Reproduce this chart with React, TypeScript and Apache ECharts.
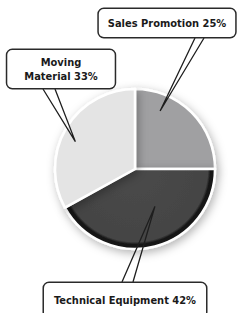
import React, { useEffect, useRef } from 'react';
import * as echarts from 'echarts';

const categories = ['Sales Promotion', 'Technical Equipment', 'Moving\nMaterial'];
const shares = [25, 42, 33];

const PIE_CENTER = [135, 169];
const PIE_RADIUS = 80;
const sliceColors = [
  '#a0a0a2',
  {
    type: 'radial', x: PIE_CENTER[0], y: PIE_CENTER[1], r: PIE_RADIUS + 1, global: true, globalCoord: true,
    colorStops: [
      { offset: 0, color: '#4a4a4a' },
      { offset: 0.9, color: '#444444' },
      { offset: 0.93, color: '#181818' },
      { offset: 1, color: '#141414' },
    ],
  },
  '#e4e4e4',
];
// label box centres, paddings, and the pointer geometry (attachment offsets on the box, tip position inside the slice)
const labelCenters = [[167, 23], [125, 300], [61, 69]];
const labelPadding = [[7, 9, 7, 9], [10, 10, 10, 10], [5, 17, 5, 17]];
const pointerAttach = [
  { side: 'bottom', dx: [28, 37] },
  { side: 'top', dx: [-3, 8] },
  { side: 'bottom', dx: [-18, -6] },
];
const pointerTip = [
  { angleFrac: 0.26, radiusFrac: 0.79 },
  { angleFrac: 0.41, radiusFrac: 0.53 },
  { angleFrac: 0.45, radiusFrac: 0.82 },
];
const FONT = "'DejaVu Sans Condensed', 'Liberation Sans Narrow', sans-serif";

export default function App() {
  const ref = useRef<HTMLDivElement>(null);
  useEffect(() => {
    if (!ref.current) return;
    const chart = echarts.init(ref.current, undefined, { renderer: 'svg' });
    const total = shares.reduce((a, b) => a + b, 0);
    const starts: number[] = [];
    let acc = 0;
    shares.forEach((v) => { starts.push(acc); acc += v; });

    const tipOf = (i: number) => {
      const ang = ((starts[i] + shares[i] * pointerTip[i].angleFrac) / total) * Math.PI * 2;
      const r = PIE_RADIUS * pointerTip[i].radiusFrac;
      return [PIE_CENTER[0] + r * Math.sin(ang), PIE_CENTER[1] - r * Math.cos(ang)];
    };

    chart.setOption({
      animation: false,
      backgroundColor: '#ffffff',
      series: [
        {
          type: 'pie',
          center: PIE_CENTER,
          radius: PIE_RADIUS,
          startAngle: 90,
          clockwise: true,
          silent: true,
          z: 2,
          label: { show: false },
          labelLine: { show: false },
          itemStyle: {
            borderColor: '#ffffff',
            borderWidth: 2.5,
            shadowBlur: 10,
            shadowColor: 'rgba(0,0,0,0.3)',
            shadowOffsetX: 2,
            shadowOffsetY: 3,
          },
          data: categories.map((name, i) => ({
            name,
            value: shares[i],
            itemStyle: { color: sliceColors[i] as any },
          })),
        },
        {
          type: 'pie',
          center: PIE_CENTER,
          radius: 40,
          startAngle: 90,
          clockwise: true,
          silent: true,
          z: 5,
          avoidLabelOverlap: false,
          itemStyle: { color: 'rgba(0,0,0,0)', borderWidth: 0 },
          label: {
            show: true,
            position: 'outside',
            formatter: (p: any) => `${p.name} ${p.value}%`,
            fontFamily: FONT,
            fontWeight: 'bold',
            fontSize: 11,
            lineHeight: 14,
            color: '#1a1a1a',
            align: 'center',
            backgroundColor: '#ffffff',
            borderColor: '#2a2a2a',
            borderWidth: 1.5,
            borderRadius: 5,
          },
          labelLine: {
            show: true,
            length: 0,
            length2: 0,
            smooth: false,
            lineStyle: { color: '#1e1e1e', width: 1.3 },
          },
          labelLayout: (p: any) => {
            const i = p.dataIndex;
            const c = labelCenters[i];
            const h = p.labelRect.height;
            const att = pointerAttach[i];
            const ey = att.side === 'bottom' ? c[1] + h / 2 - 0.5 : c[1] - h / 2 + 0.5;
            const tip = tipOf(i);
            return {
              x: c[0],
              y: c[1],
              align: 'center',
              verticalAlign: 'middle',
              labelLinePoints: [[c[0] + att.dx[0], ey], tip, [c[0] + att.dx[1], ey]],
            };
          },
          data: categories.map((name, i) => ({
            name,
            value: shares[i],
            label: { padding: labelPadding[i] },
          })),
        },
      ],
    });
    return () => chart.dispose();
  }, []);
  return (
    <div
      ref={ref}
      style={{ position: 'absolute', left: 0, top: 0, width: 248, height: 313, background: '#fff' }}
    />
  );
}
